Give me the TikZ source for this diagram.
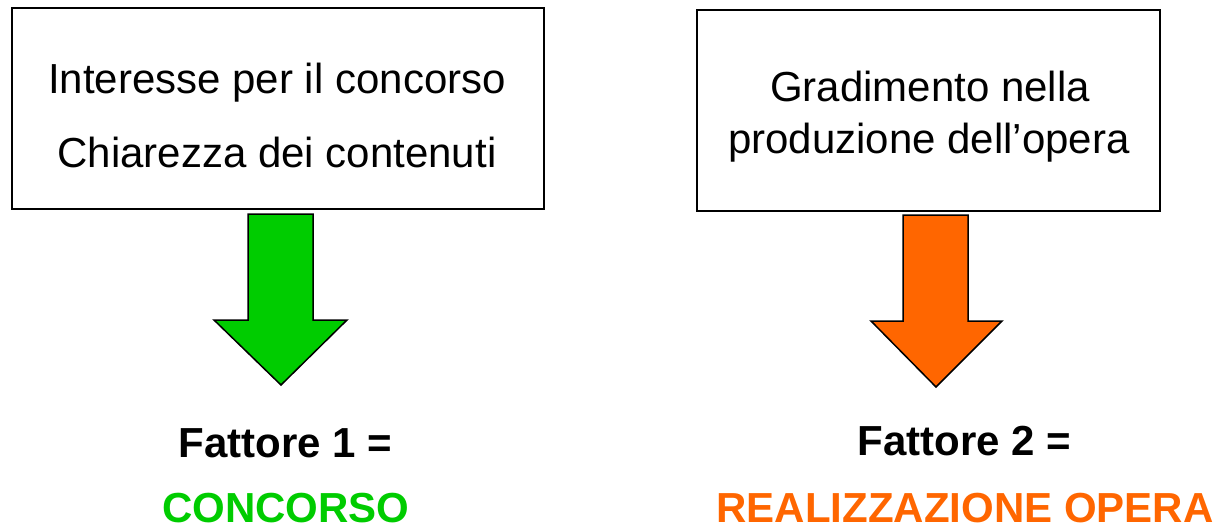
\documentclass[tikz,border=0pt]{standalone}
\usepackage{fontspec}
\setmainfont{Liberation Sans}
\definecolor{arrgreen}{HTML}{00CC00}
\definecolor{arrorange}{HTML}{FF6600}
\begin{document}
\begin{tikzpicture}[x=1pt,y=-1pt,
  boxstyle/.style={draw=black,line width=2pt,inner sep=0pt},
  boxtext/.style={anchor=base,inner sep=0pt,font=\fontsize{42}{50}\selectfont},
  factext/.style={anchor=base,inner sep=0pt,font=\fontsize{42}{50}\selectfont\bfseries},
  blockarrow/.style={draw=black,line width=1.5pt,line join=miter}]
\useasboundingbox (0,0) rectangle (1218,525);
% boxes
\node[boxstyle,minimum width=532pt,minimum height=201pt] (boxL) at (278,108.5) {};
\node[boxstyle,minimum width=463pt,minimum height=201pt] (boxR) at (928.5,110.5) {};
% box texts
\node[boxtext] (tL1) at (277,93) {Interesse per il concorso};
\node[boxtext] (tL2) at (277,167) {Chiarezza dei contenuti};
\node[boxtext] (tR1) at (930,101) {Gradimento nella};
\node[boxtext] (tR2) at (929,153) {produzione dell’opera};
% block arrows
\draw[blockarrow,fill=arrgreen] (248,214) -- (313,214) -- (313,320) -- (347,320) -- (281,385) -- (214,320) -- (248,320) -- cycle;
\draw[blockarrow,fill=arrorange] (903,215) -- (968,215) -- (968,321) -- (1002,321) -- (936,387) -- (871,321) -- (903,321) -- cycle;
% factor labels
\node[factext] (f1) at (285.5,457) {Fattore 1 =};
\node[factext,text=arrgreen] (c1) at (286,522) {CONCORSO};
\node[factext] (f2) at (964.5,455) {Fattore 2 =};
\node[factext,text=arrorange] (c2) at (965,522) {REALIZZAZIONE OPERA};
\end{tikzpicture}
\end{document}
